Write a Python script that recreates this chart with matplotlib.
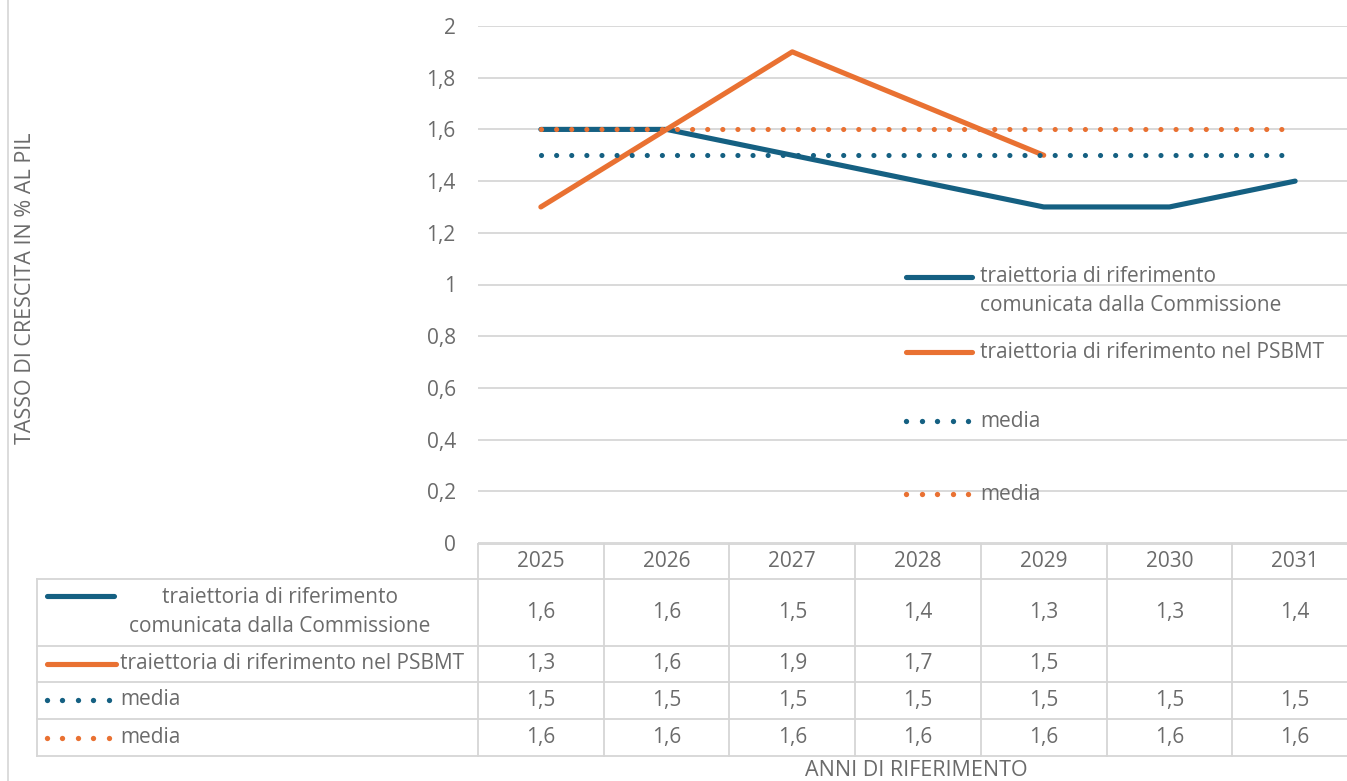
import numpy as np
import matplotlib
matplotlib.use("Agg")
import matplotlib.pyplot as plt
from matplotlib.lines import Line2D
from matplotlib.ticker import FuncFormatter

# ---------------- data ----------------
years = ["2025", "2026", "2027", "2028", "2029", "2030", "2031"]
commissione = [1.6, 1.6, 1.5, 1.4, 1.3, 1.3, 1.4]
psbmt = [1.3, 1.6, 1.9, 1.7, 1.5, np.nan, np.nan]
media_comm = [1.5, 1.5, 1.5, 1.5, 1.5, 1.5, 1.5]
media_psbmt = [1.6, 1.6, 1.6, 1.6, 1.6, 1.6, 1.6]

series_labels = [
    "traiettoria di riferimento\ncomunicata dalla Commissione",
    "traiettoria di riferimento nel PSBMT",
    "media",
    "media",
]
y_label = "TASSO DI CRESCITA IN % AL PIL"
x_label = "ANNI DI RIFERIMENTO"

# ---------------- style ----------------
BLUE = "#156082"
ORANGE = "#E97132"
GRID = "#d9d9d9"
TXT = "#6b6b6b"
FONT = "Open Sans"
FS = 15
plt.rcParams["font.family"] = [FONT, "DejaVu Sans"]

W, H = 1347, 781
fig = plt.figure(figsize=(W / 100, H / 100), dpi=100)


def F(xp, yp):
    """pixel position -> figure fraction"""
    return xp / W, 1 - yp / H


# plot area in pixels
PL, PR, PT, PB = 478, 1358, 26, 543
ax = fig.add_axes([PL / W, 1 - PB / H, (PR - PL) / W, (PB - PT) / H])
x = np.arange(len(years))
LW = 3.7
DOT = dict(lw=3.7, dashes=(0.01, 2.93), dash_capstyle="round")
SOLID = dict(lw=LW, solid_capstyle="round", solid_joinstyle="round")
KEYDOT = dict(ls="none", marker="o", ms=3.8, mew=0)

l1, = ax.plot(x, commissione, color=BLUE, zorder=3, **SOLID)
l2, = ax.plot(x, psbmt, color=ORANGE, zorder=4, **SOLID)
l3, = ax.plot(x, media_comm, color=BLUE, zorder=5, **DOT)
l4, = ax.plot(x, media_psbmt, color=ORANGE, zorder=6, **DOT)

ax.set_xlim(-0.5, len(years) - 0.5)
ax.set_ylim(0, 2)
ax.set_yticks(np.arange(0, 2.01, 0.2))
ax.yaxis.set_major_formatter(FuncFormatter(
    lambda v, p: ("%g" % round(v, 1)).replace(".", ",")))
ax.tick_params(axis="y", length=0, pad=16, labelsize=FS, labelcolor=TXT)
ax.set_xticks([])
ax.grid(axis="y", color=GRID, lw=1.4)
ax.set_axisbelow(True)
for s in ax.spines.values():
    s.set_visible(False)


def key(artist_parent, x0, x1, y, k, transform=None):
    """legend key: solid bar or five round dots"""
    if k < 2:
        xs, ys = [x0, x1], [y, y]
        st = dict(color=[BLUE, ORANGE][k], **SOLID)
    else:
        xs = list(np.linspace(x0, x1, 5))
        ys = [y] * 5
        st = dict(color=[BLUE, ORANGE][k - 2], mfc=[BLUE, ORANGE][k - 2],
                  **KEYDOT)
    ln = Line2D(xs, ys, **st)
    if transform is not None:
        ln.set_transform(transform)
        artist_parent.add_artist(ln)
    else:
        artist_parent.add_line(ln)


# legend inside the plot area
leg_rows = [291, 352, 421, 494]
for k, (yy, lab) in enumerate(zip(leg_rows, series_labels)):
    ky = 277 if k == 0 else yy
    x0, y0 = F(906, ky)
    x1, _ = F(972 if k < 2 else 968, ky)
    key(fig, x0, x1, y0, k, transform=fig.transFigure)
    tx, ty = F(980, yy)
    fig.text(tx, ty, lab, ha="left", va="center", fontsize=FS, color=TXT,
             linespacing=1.45)

# y label
fig.text(*F(26, 288), y_label, rotation=90, ha="center",
         va="center", fontsize=15.5, color=TXT)
# x label
fig.text(*F((PL + PR) / 2 - 2, 771), x_label, ha="center",
         va="center", fontsize=15.5, color=TXT)

# ---------------- data table ----------------
TL, TT, TB = 37, 544, 756
rows_px = [544, 579, 646, 682, 719, 756]
ppu = (PR - PL) / len(years)
xl = -0.5 - (PL - TL) / ppu
tab = fig.add_axes([TL / W, 1 - TB / H, (PR - TL) / W, (TB - TT) / H])
tab.set_xlim(xl, len(years) - 0.5)
tab.set_ylim(TB, TT)
tab.axis("off")


def px(v):
    return -0.5 + (v - PL) / ppu


LC = "#d6d6d6"
tab.plot([-0.5, len(years) - 0.5], [rows_px[0]] * 2, color=LC, lw=1.3,
         clip_on=False)
for r in rows_px[1:]:
    tab.plot([xl, len(years) - 0.5], [r, r], color=LC, lw=1.3, clip_on=False)
tab.plot([xl, xl], [rows_px[1], rows_px[-1]], color=LC, lw=1.3, clip_on=False)
for i in range(len(years) + 1):
    tab.plot([i - 0.5, i - 0.5], [rows_px[0], rows_px[-1]], color=LC, lw=1.3,
             clip_on=False)

hc = (rows_px[0] + rows_px[1]) / 2
for i, yv in enumerate(years):
    tab.text(i, hc, yv, ha="center", va="center", fontsize=FS, color=TXT)

all_series = [commissione, psbmt, media_comm, media_psbmt]
for k, ser in enumerate(all_series):
    rc = (rows_px[k + 1] + rows_px[k + 2]) / 2
    for i, v in enumerate(ser):
        if not np.isnan(v):
            tab.text(i, rc, ("%.1f" % v).replace(".", ","), ha="center",
                     va="center", fontsize=FS, color=TXT)

# row keys
key(tab, px(47), px(114), 596, 0)
tab.text(px(280), 612, series_labels[0], ha="center", va="center",
         multialignment="center", fontsize=FS, color=TXT, linespacing=1.45)
key(tab, px(47), px(116), 664, 1)
tab.text(px(120), 664, series_labels[1], ha="left", va="center",
         fontsize=FS, color=TXT)
key(tab, px(47), px(109), 700, 2)
tab.text(px(120), 700, series_labels[2], ha="left", va="center",
         fontsize=FS, color=TXT)
key(tab, px(47), px(109), 738, 3)
tab.text(px(120), 738, series_labels[3], ha="left", va="center",
         fontsize=FS, color=TXT)

# chart border at left
fig.add_artist(Line2D([8 / W, 8 / W], [0, 1], color=GRID, lw=1.3))

fig.savefig("out.png", dpi=100, facecolor="white")
